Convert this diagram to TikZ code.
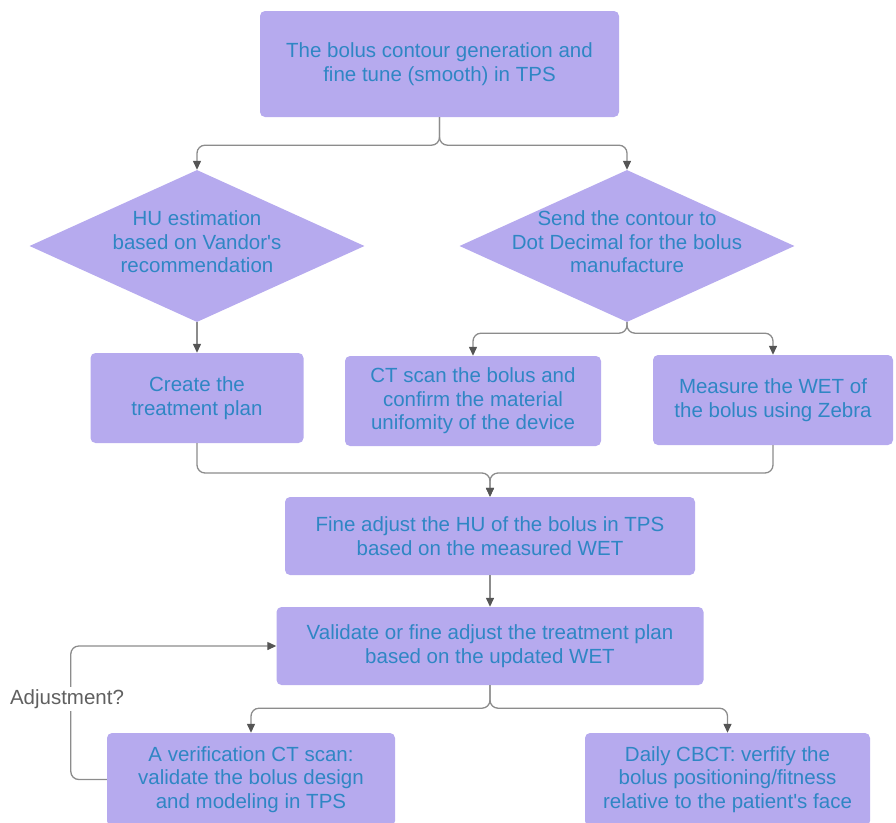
\documentclass[tikz,border=0pt]{standalone}
\usepackage{fontspec}
\setmainfont{Liberation Sans}
\usetikzlibrary{shapes.geometric,arrows.meta}
\definecolor{boxfill}{HTML}{B6AAEE}
\definecolor{boxtext}{HTML}{2F86C4}
\definecolor{linegray}{HTML}{8C8C8C}
\definecolor{tipgray}{HTML}{555555}
\tikzset{
  proc/.style={draw=none, fill=boxfill, rounded corners=5pt, text=boxtext, align=center, inner sep=2pt, font=\fontsize{20.5}{23.5}\selectfont},
  decision/.style={diamond, draw=none, fill=boxfill, inner sep=0pt, minimum width=335pt, minimum height=152pt},
  dtext/.style={text=boxtext, align=center, font=\fontsize{20.5}{23.5}\selectfont, yshift=4pt},
  conn/.style={draw=linegray, line width=1.3pt, rounded corners=8pt, -{Triangle[length=9pt,width=8pt,color=tipgray]}},
  note/.style={fill=white, text=gray!75!black, inner sep=2pt, font=\fontsize{20.5}{23.5}\selectfont}
}
\begin{document}
\begin{tikzpicture}[x=1pt,y=-1pt]
  \useasboundingbox (0,0) rectangle (896,822);
  % boxes
  \node[proc, minimum width=359pt, minimum height=106pt] (top) at (439.5,64) {The bolus contour generation and\\fine tune (smooth) in TPS};
  \node[decision, label={[dtext]center:{HU estimation\\based on Vandor\textquotesingle s\\recommendation}}] (hu) at (197,246) {};
  \node[decision, label={[dtext]center:{Send the contour to\\Dot Decimal for the bolus\\manufacture}}] (send) at (627,246) {};
  \node[proc, minimum width=213pt, minimum height=90pt] (create) at (197,398) {Create the\\treatment plan};
  \node[proc, minimum width=256pt, minimum height=90pt] (ct) at (473,401) {CT scan the bolus and\\confirm the material\\unifomity of the device};
  \node[proc, minimum width=240pt, minimum height=90pt] (measure) at (773,400) {Measure the WET of\\the bolus using Zebra};
  \node[proc, minimum width=410pt, minimum height=78pt] (fine) at (490,536) {Fine adjust the HU of the bolus in TPS\\based on the measured WET};
  \node[proc, minimum width=427pt, minimum height=78pt] (val) at (490,646) {Validate or fine adjust the treatment plan\\based on the updated WET};
  \node[proc, minimum width=288pt, minimum height=93pt] (ver) at (251,779.5) {A verification CT scan:\\validate the bolus design\\and modeling in TPS};
  \node[proc, minimum width=285pt, minimum height=93pt] (daily) at (727.5,779.5) {Daily CBCT: verfify the\\bolus positioning/fitness\\relative to the patient\textquotesingle s face};
  \coordinate (join) at (490,473);
  % connectors
  \draw[conn] (top.south) -- ++(0,28) -| (hu.north);
  \draw[conn] (top.south) -- ++(0,28) -| (send.north);
  \draw[conn] (hu.south) -- (create.north);
  \draw[conn] (send.south) -- ++(0,11) -| (ct.north);
  \draw[conn] (send.south) -- ++(0,11) -| (measure.north);
  \draw[conn] (create.south) |- (join) -- (fine.north);
  \draw[conn] (measure.south) |- (join) -- (fine.north);
  \draw[conn] (fine.south) -- (val.north);
  \draw[conn] (val.south) -- ++(0,23) -| (ver.north);
  \draw[conn] (val.south) -- ++(0,23) -| (daily.north);
  \draw[conn] (ver.west) -- ++(-36,0) |- (val.west);
  \node[note] (adj) at (67,699) {Adjustment?};
\end{tikzpicture}
\end{document}
